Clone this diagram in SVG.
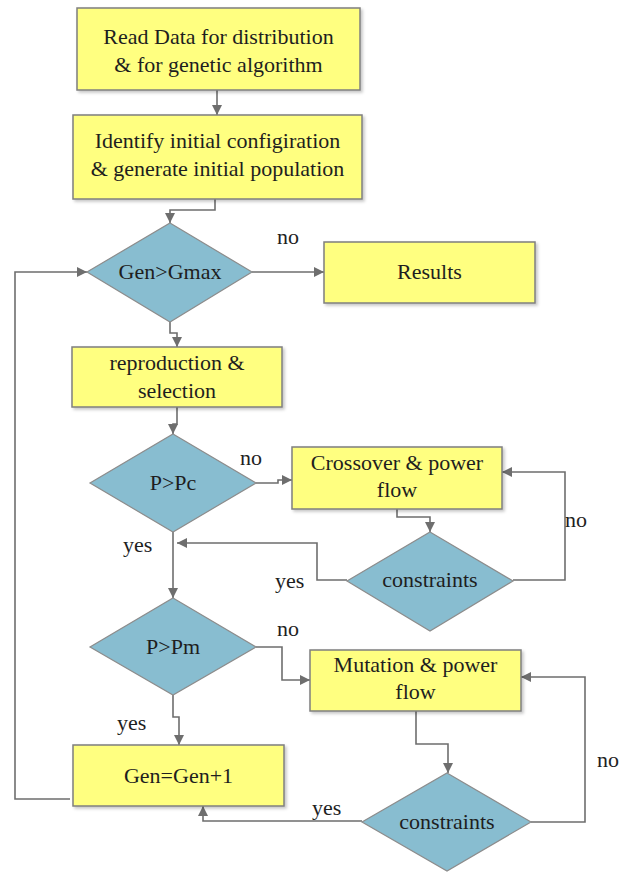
<svg xmlns="http://www.w3.org/2000/svg" width="634" height="872" viewBox="0 0 634 872">
  <style>
    .box { fill: #FFFF80; stroke: #7F7F7F; stroke-width: 1.5; filter: url(#shadow); }
    .dec { fill: #88BDD0; stroke: #8C8C8C; stroke-width: 1.2; }
    text { font-family: 'Liberation Serif', 'Tinos', 'DejaVu Serif', serif; font-size: 22px; fill: #1E1E1E; }
    .txt { text-anchor: middle; }
    .con { fill: none; stroke: #6E6E6E; stroke-width: 1.6; marker-end: url(#arrow); }
  </style>
  <defs>
    <filter id="shadow" x="-10%" y="-10%" width="125%" height="130%">
      <feDropShadow dx="2" dy="2" stdDeviation="1.5" flood-color="#000" flood-opacity="0.22"/>
    </filter>
    <marker id="arrow" markerWidth="11" markerHeight="10" refX="10" refY="5" orient="auto" markerUnits="userSpaceOnUse">
      <path d="M0,0 L10,5 L0,10 Z" fill="#6E6E6E"/>
    </marker>
  </defs>

  <rect width="634" height="872" fill="#FFFFFF"/>

  <!-- connectors -->
  <g id="connectors">
    <path class="con" d="M217,90 L217,115"/>
    <path class="con" d="M215,199 L215,210 L170,210 L170,223"/>
    <path class="con" d="M252,272 L324,272"/>
    <path class="con" d="M170,322 L170,333 L177,333 L177,347"/>
    <path class="con" d="M177,407 L177,424 L173,424 L173,434"/>
    <path class="con" d="M256,483 L278,483 L278,480 L292,480"/>
    <path class="con" d="M397,509 L397,517 L430,517 L430,532"/>
    <path class="con" d="M513,580 L565,580 L565,472 L502,472"/>
    <path class="con" d="M347,580 L317,580 L317,543 L177,543"/>
    <path class="con" d="M173,532 L173,598"/>
    <path class="con" d="M256,647 L282,647 L282,680 L310,680"/>
    <path class="con" d="M173,695 L173,717 L179,717 L179,745"/>
    <path class="con" d="M416,711 L416,744 L448,744 L448,773"/>
    <path class="con" d="M531,822 L585,822 L585,677 L521,677"/>
    <path class="con" d="M362,821 L203,821 L203,806"/>
    <path class="con" d="M70,799 L15,799 L15,272 L87,272"/>
  </g>

  <!-- connector labels -->
  <g id="labels">
    <text x="277" y="244">no</text>
    <text x="240" y="465">no</text>
    <text x="123" y="552">yes</text>
    <text x="275" y="588">yes</text>
    <text x="565" y="527">no</text>
    <text x="277" y="636">no</text>
    <text x="117" y="730">yes</text>
    <text x="597" y="767">no</text>
    <text x="312" y="815">yes</text>
  </g>

  <g id="read-data">
    <rect class="box" x="77" y="8" width="283" height="82"/>
    <text class="txt" x="218.5" y="44">Read Data for distribution</text>
    <text class="txt" x="218.5" y="72">&amp; for genetic algorithm</text>
  </g>

  <g id="init-config">
    <rect class="box" x="73" y="115" width="289" height="84"/>
    <text class="txt" x="217.5" y="148">Identify initial configiration</text>
    <text class="txt" x="217.5" y="176">&amp; generate initial population</text>
  </g>

  <g id="gen-check">
    <polygon class="dec" points="170,223 252,272 170,322 87,272"/>
    <text class="txt" x="170" y="279">Gen&gt;Gmax</text>
  </g>

  <g id="results">
    <rect class="box" x="324" y="242" width="211" height="61"/>
    <text class="txt" x="429.5" y="279">Results</text>
  </g>

  <g id="reproduction">
    <rect class="box" x="72" y="347" width="210" height="60"/>
    <text class="txt" x="177" y="370">reproduction &amp;</text>
    <text class="txt" x="177" y="398">selection</text>
  </g>

  <g id="pc-check">
    <polygon class="dec" points="173,434 256,483 173,532 90,483"/>
    <text class="txt" x="173" y="490">P&gt;Pc</text>
  </g>

  <g id="crossover">
    <rect class="box" x="292" y="447" width="210" height="62"/>
    <text class="txt" x="397" y="470">Crossover &amp; power</text>
    <text class="txt" x="397" y="497">flow</text>
  </g>

  <g id="constraints-1">
    <polygon class="dec" points="430,532 513,581 430,631 347,581"/>
    <text class="txt" x="430" y="587">constraints</text>
  </g>

  <g id="pm-check">
    <polygon class="dec" points="173,598 256,647 173,695 90,647"/>
    <text class="txt" x="173" y="654">P&gt;Pm</text>
  </g>

  <g id="mutation">
    <rect class="box" x="310" y="650" width="211" height="61"/>
    <text class="txt" x="415.5" y="672">Mutation &amp; power</text>
    <text class="txt" x="415.5" y="699">flow</text>
  </g>

  <g id="gen-increment">
    <rect class="box" x="73" y="745" width="211" height="61"/>
    <text class="txt" x="178.5" y="783">Gen=Gen+1</text>
  </g>

  <g id="constraints-2">
    <polygon class="dec" points="447,773 531,822 447,871 362,822"/>
    <text class="txt" x="447" y="829">constraints</text>
  </g>
</svg>
